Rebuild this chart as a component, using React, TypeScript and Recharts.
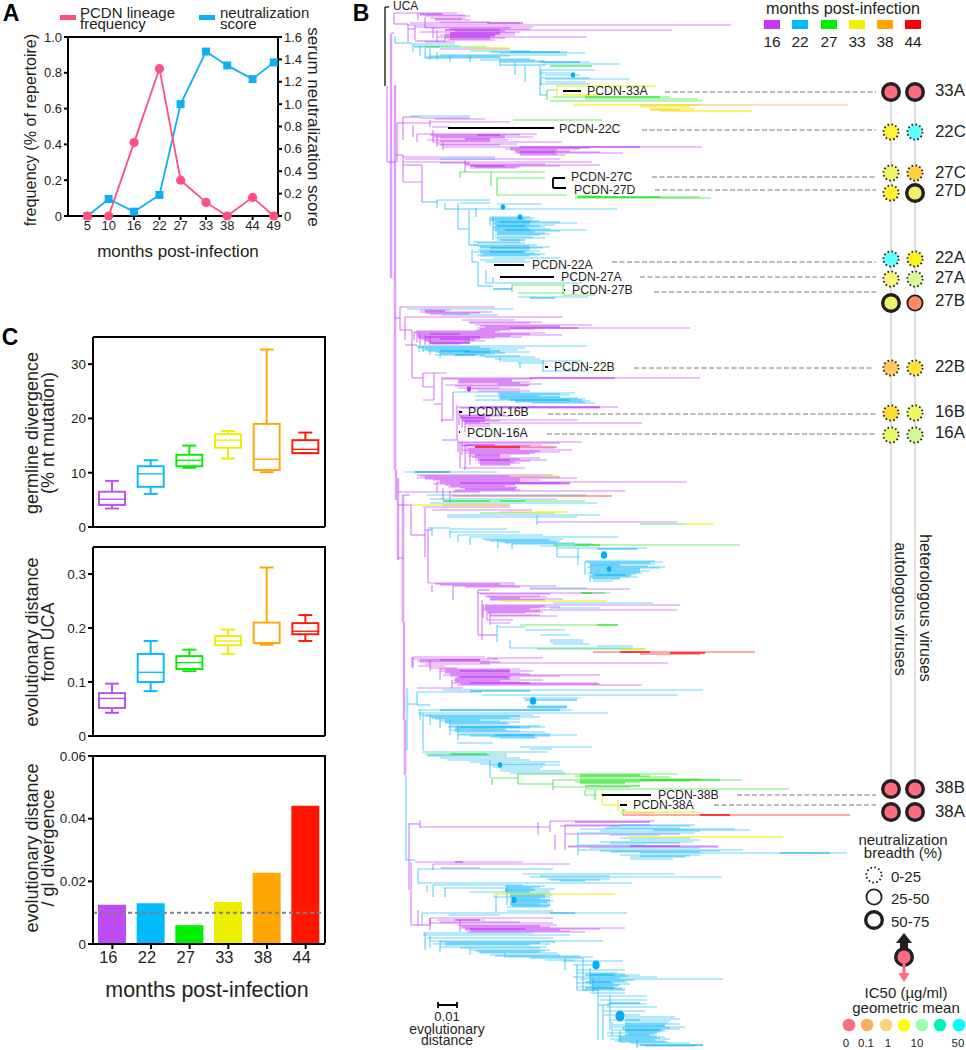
import React from "react";
import {
  Bar,
  BarChart,
  Cell,
  ComposedChart,
  Line,
  LineChart,
  ReferenceLine,
  Scatter,
  XAxis,
  YAxis,
} from "recharts";

type Seg = [number, number, number];

const FONT = '"Liberation Sans", Arial, sans-serif';
const INK = "#231f20";

// panel A
const monthsA = [5, 10, 16, 22, 27, 33, 38, 44, 49];
const lineageFreq = [0, 0, 0.41, 0.823, 0.2, 0.076, 0, 0.104, 0];
const neutScore = [0, 0.152, 0.039, 0.188, 1.0, 1.47, 1.346, 1.224, 1.373];

// panel C
const monthsC = ["16", "22", "27", "33", "38", "44"];
const monthColors = ["#BD4BF7", "#00BAFF", "#00EE00", "#EEEE00", "#FFA600", "#FF1500"];

const germMax = [8.5, 12.3, 15, 17.7, 32.7, 17.4];
const germQ3 = [6.5, 11.2, 13.3, 17.1, 19, 16];
const germMed = [5.1, 9.8, 12.3, 16, 12.5, 14.3];
const germQ1 = [4.05, 7.4, 11.2, 14.6, 10.5, 13.6];
const germMin = [3.4, 6.1, 10.9, 12.6, 10.1, 13.6];

const distMax = [0.097, 0.176, 0.16, 0.197, 0.312, 0.224];
const distQ3 = [0.0795, 0.152, 0.148, 0.185, 0.21, 0.209];
const distMed = [0.0696, 0.118, 0.136, 0.176, 0.1725, 0.194];
const distQ1 = [0.052, 0.1, 0.124, 0.168, 0.172, 0.1885];
const distMin = [0.043, 0.083, 0.12, 0.152, 0.169, 0.176];

const ratioValues = [0.0125, 0.013, 0.006, 0.0134, 0.0227, 0.0441];

// panel B tree, [tip position, distance from, distance to] and stems [distance, position from, position to]
const purpleStems: Seg[] = [
  [387, 86, 162], [394, 13, 24], [408, 24, 42], [415, 25, 40], [397, 123, 162], [403, 117, 140],
  [417, 134, 142], [413, 125, 137], [403, 155, 182], [422, 165, 202], [400, 307, 330], [405, 317, 340],
  [412, 330, 378], [423, 373, 387], [434, 373, 400], [442, 378, 422], [453, 392, 420], [457, 405, 440],
  [462, 415, 428], [458, 440, 452], [462, 442, 455], [411, 505, 535], [425, 508, 557], [428, 530, 583],
  [478, 590, 635], [482, 600, 640], [412, 657, 667], [420, 820, 828], [409, 823, 890], [411, 862, 925],
  [550, 821, 832], [538, 822, 835], [555, 835, 850], [418, 910, 926], [430, 918, 925], [418, 13, 20],
  [425, 17, 28], [433, 27, 38], [437, 30, 42], [445, 36, 42], [430, 120, 127], [433, 130, 142],
  [437, 137, 147], [443, 142, 150], [465, 160, 172], [414, 332, 340], [417, 335, 343], [420, 335, 345],
  [425, 335, 345], [430, 337, 345], [459, 410, 425], [465, 420, 432], [460, 442, 468], [465, 445, 470],
  [470, 450, 465], [437, 482, 492], [443, 488, 500], [450, 491, 502], [432, 585, 592], [453, 586, 600],
  [483, 605, 618], [487, 610, 620], [490, 612, 625], [413, 657, 668], [430, 660, 671], [440, 668, 680],
  [452, 680, 688], [565, 825, 850], [433, 864, 870], [430, 918, 930], [460, 920, 932],
];
const purpleLinks: Seg[] = [
  [24, 394, 408], [29, 408, 415], [33, 391, 394], [41, 415, 445], [117, 403, 420], [123, 397, 403],
  [162, 387, 396], [155, 396, 403], [165, 403, 422], [318, 395, 400], [330, 400, 412], [345, 405, 417],
  [378, 412, 423], [404, 434, 441], [420, 441, 453], [440, 442, 457], [495, 403, 410], [505, 398, 412],
  [535, 411, 425], [558, 398, 403], [530, 425, 432], [925, 411, 430], [590, 478, 490], [635, 478, 497],
  [824, 409, 420],
];
const purpleTips: Seg[] = [
  [13, 394, 457], [15, 420, 465], [16, 425, 470], [18, 430, 466], [19, 435, 462], [20, 435, 470],
  [22, 440, 490], [23, 410, 520], [25, 408, 731], [27, 415, 533], [28, 425, 510], [29, 450, 530],
  [30, 445, 672], [31, 455, 505], [32, 420, 520], [33, 450, 515], [34, 445, 500], [35, 440, 515],
  [36, 445, 495], [37, 437, 587], [38, 445, 505], [39, 450, 490], [40, 447, 495], [42, 425, 455],
  [49, 440, 510], [118, 420, 470], [119, 435, 485], [122, 430, 510], [123, 403, 430], [127, 432, 450],
  [134, 417, 537], [135, 430, 520], [136, 435, 505], [137, 433, 533], [138, 440, 505], [140, 427, 508],
  [141, 440, 490], [142, 433, 562], [144, 437, 517], [145, 440, 500], [147, 443, 702], [148, 510, 590],
  [149, 505, 580], [150, 510, 557], [151, 515, 570], [152, 515, 600], [153, 517, 623], [154, 520, 557],
  [155, 520, 565], [157, 403, 495], [159, 405, 560], [162, 403, 592], [163, 440, 470], [164, 465, 545],
  [165, 465, 600], [166, 470, 560], [167, 475, 520], [168, 470, 516], [182, 403, 422], [307, 400, 495],
  [310, 420, 450], [312, 420, 492], [313, 425, 480], [314, 430, 470], [317, 405, 563], [320, 462, 515],
  [322, 468, 542], [323, 470, 530], [325, 475, 592], [326, 480, 560], [327, 485, 560], [328, 478, 690],
  [329, 480, 535], [330, 476, 510], [331, 416, 500], [332, 414, 495], [333, 415, 545], [334, 416, 530],
  [335, 417, 562], [336, 418, 510], [337, 418, 522], [338, 418, 495], [339, 420, 480], [340, 425, 475],
  [341, 425, 485], [342, 428, 470], [343, 430, 470], [344, 432, 460], [373, 423, 447], [378, 441, 700],
  [379, 443, 532], [380, 458, 512], [381, 459, 512], [382, 458, 530], [383, 458, 520], [384, 498, 542],
  [385, 445, 530], [386, 455, 528], [387, 423, 434], [388, 458, 500], [389, 472, 520], [391, 478, 530],
  [400, 423, 434], [407, 457, 618], [408, 460, 600], [415, 459, 505], [416, 460, 510], [417, 460, 490],
  [418, 460, 485], [419, 462, 490], [420, 462, 578], [421, 462, 500], [422, 465, 480], [423, 465, 642],
  [424, 466, 490], [426, 468, 490], [442, 458, 582], [443, 460, 560], [445, 462, 542], [446, 462, 530],
  [448, 465, 555], [449, 468, 520], [450, 462, 572], [451, 465, 540], [452, 470, 560], [453, 465, 535],
  [454, 470, 530], [456, 468, 510], [457, 472, 500], [458, 475, 540], [459, 478, 520], [460, 475, 547],
  [461, 478, 530], [462, 480, 515], [463, 478, 520], [464, 480, 510], [465, 480, 510], [468, 462, 525],
  [472, 415, 450], [475, 417, 553], [476, 420, 510], [477, 425, 560], [478, 417, 577], [479, 425, 520],
  [480, 433, 540], [481, 440, 520], [482, 437, 687], [483, 440, 560], [484, 433, 570], [485, 445, 515],
  [486, 450, 505], [487, 448, 517], [488, 460, 517], [490, 455, 520], [491, 453, 625], [492, 398, 480],
  [505, 443, 510], [507, 423, 510], [510, 432, 532], [522, 537, 677], [583, 428, 515], [584, 435, 500],
  [585, 440, 515], [586, 453, 556], [587, 465, 520], [589, 530, 630], [593, 477, 605], [594, 480, 550],
  [596, 485, 540], [597, 487, 547], [598, 490, 520], [599, 490, 563], [600, 490, 545], [605, 483, 680],
  [606, 485, 545], [607, 485, 560], [608, 483, 540], [609, 485, 530], [610, 483, 677], [611, 488, 540],
  [612, 487, 543], [613, 488, 525], [615, 490, 540], [616, 490, 557], [620, 487, 513], [623, 490, 510],
  [657, 413, 485], [658, 487, 543], [659, 413, 498], [660, 420, 480], [661, 417, 490], [662, 420, 500],
  [663, 480, 668], [664, 425, 490], [666, 418, 445], [668, 430, 457], [669, 440, 520], [670, 445, 510],
  [671, 440, 533], [672, 445, 510], [673, 445, 520], [674, 450, 530], [675, 443, 600], [676, 450, 560],
  [677, 457, 507], [678, 455, 520], [679, 455, 510], [680, 453, 543], [681, 455, 500], [682, 455, 520],
  [683, 452, 598], [684, 460, 600], [685, 457, 642], [688, 417, 463], [821, 550, 655], [825, 565, 650],
  [826, 560, 620], [827, 420, 550], [834, 565, 680], [846, 568, 718], [847, 568, 718], [862, 415, 523],
  [864, 433, 570], [868, 441, 480], [918, 430, 553], [920, 437, 485], [922, 440, 520], [923, 430, 553],
  [925, 457, 557], [926, 460, 540], [927, 462, 550], [928, 460, 625], [929, 465, 600], [930, 465, 560],
  [931, 470, 570], [932, 467, 585],
];
const purpleCore: Seg[] = [
  [14, 420, 443], [23, 487, 523], [30, 445, 500], [33, 450, 500], [35, 450, 495], [37, 450, 490],
  [135, 477, 500], [139, 465, 490], [147, 520, 640], [152, 520, 555], [166, 470, 505], [311, 425, 445],
  [328, 510, 578], [334, 430, 460], [337, 425, 480], [339, 440, 470], [343, 430, 470], [378, 530, 615],
  [407, 480, 600], [418, 462, 485], [421, 465, 485], [445, 465, 495], [455, 475, 500], [460, 480, 510],
  [483, 460, 570], [489, 465, 515], [660, 440, 480], [671, 460, 510], [677, 460, 510], [683, 470, 530],
  [822, 575, 650], [846, 630, 680], [862, 455, 463], [920, 455, 480], [929, 470, 525],
];
const blueStems: Seg[] = [
  [395, 36, 43], [413, 44, 52], [420, 46, 56], [425, 48, 58], [525, 65, 82], [540, 66, 95], [541, 70, 85],
  [437, 200, 208], [445, 203, 209], [458, 203, 229], [469, 210, 245], [476, 208, 217], [490, 217, 226],
  [493, 217, 240], [472, 250, 262], [478, 262, 286], [486, 270, 283], [493, 277, 283], [419, 346, 352],
  [430, 350, 355], [543, 360, 372], [537, 515, 525], [557, 545, 557], [578, 548, 565], [585, 562, 575],
  [590, 575, 582], [497, 625, 642], [510, 640, 648], [417, 692, 705], [407, 688, 750], [423, 713, 750],
  [406, 775, 860], [578, 832, 855], [422, 913, 925], [425, 933, 950], [583, 958, 990], [565, 958, 970],
  [598, 985, 1040], [490, 760, 778], [418, 869, 883], [433, 885, 897], [507, 885, 905], [603, 1005, 1040],
  [430, 48, 60], [437, 52, 60], [450, 55, 62], [470, 55, 62], [500, 58, 66], [515, 62, 75], [423, 346, 352],
  [440, 352, 358], [500, 358, 362], [520, 362, 368], [432, 528, 536], [450, 530, 538], [458, 535, 542],
  [470, 537, 545], [498, 540, 548], [512, 544, 549], [420, 710, 720], [430, 714, 725], [440, 718, 728],
  [450, 720, 735], [458, 725, 740], [427, 885, 892], [445, 888, 897], [496, 895, 912], [430, 936, 948],
  [440, 940, 952], [470, 948, 955], [505, 953, 958], [590, 968, 985], [577, 965, 990], [593, 978, 992],
  [610, 995, 1030], [612, 1022, 1036], [620, 1030, 1042], [637, 1040, 1048],
];
const blueLinks: Seg[] = [
  [43, 395, 412], [58, 425, 450], [62, 500, 525], [65, 500, 545], [95, 540, 547], [202, 422, 437],
  [209, 445, 477], [229, 458, 469], [245, 469, 477], [262, 472, 478], [286, 478, 493], [289, 493, 512],
  [528, 428, 432], [704, 407, 417], [705, 417, 430], [958, 530, 583], [860, 406, 415], [883, 418, 423],
  [1005, 598, 610], [990, 583, 598],
];
const blueTips: Seg[] = [
  [44, 412, 455], [46, 414, 460], [47, 414, 440], [51, 470, 530], [52, 490, 567], [53, 500, 585],
  [55, 440, 567], [56, 430, 510], [57, 425, 500], [58, 450, 500], [59, 500, 530], [60, 480, 535],
  [61, 500, 545], [62, 525, 590], [64, 543, 620], [70, 540, 595], [73, 540, 570], [75, 545, 580],
  [78, 542, 590], [79, 545, 630], [82, 545, 585], [84, 540, 590], [116, 410, 470], [159, 440, 495],
  [200, 437, 490], [203, 460, 490], [204, 497, 542], [209, 477, 617], [217, 490, 530], [218, 492, 535],
  [219, 490, 525], [220, 490, 533], [221, 492, 540], [222, 495, 560], [223, 493, 577], [224, 493, 530],
  [225, 495, 555], [226, 495, 540], [227, 493, 545], [228, 493, 528], [229, 495, 550], [230, 493, 587],
  [231, 495, 560], [232, 497, 535], [233, 497, 545], [234, 497, 550], [235, 495, 540], [237, 497, 533],
  [238, 495, 545], [240, 497, 520], [242, 473, 520], [243, 477, 525], [245, 473, 537], [246, 477, 530],
  [247, 480, 550], [248, 480, 543], [250, 478, 530], [251, 480, 540], [252, 473, 523], [253, 480, 535],
  [254, 483, 545], [255, 477, 540], [256, 480, 530], [258, 493, 560], [260, 480, 525], [262, 485, 530],
  [283, 485, 582], [289, 493, 512], [297, 518, 588], [309, 407, 513], [315, 442, 498], [346, 417, 587],
  [347, 418, 480], [348, 420, 525], [349, 425, 490], [350, 422, 518], [351, 428, 500], [352, 435, 530],
  [353, 440, 505], [354, 440, 495], [355, 435, 485], [356, 480, 520], [357, 485, 535], [359, 495, 540],
  [361, 502, 582], [363, 518, 545], [371, 543, 585], [392, 453, 520], [393, 498, 575], [394, 500, 560],
  [395, 498, 570], [396, 475, 540], [398, 498, 578], [399, 500, 585], [400, 475, 582], [401, 515, 590],
  [402, 515, 585], [403, 532, 595], [472, 405, 497], [495, 427, 587], [499, 430, 557], [503, 430, 597],
  [515, 447, 600], [517, 447, 577], [528, 432, 450], [529, 450, 507], [532, 450, 520], [535, 458, 543],
  [537, 470, 618], [539, 482, 563], [540, 485, 550], [541, 490, 560], [542, 500, 557], [543, 505, 575],
  [544, 512, 593], [546, 540, 590], [548, 557, 647], [557, 557, 580], [561, 585, 655], [562, 585, 663],
  [563, 588, 650], [564, 590, 655], [566, 590, 648], [567, 587, 665], [568, 590, 660], [569, 590, 640],
  [570, 590, 640], [571, 590, 650], [572, 590, 640], [573, 587, 642], [574, 590, 636], [575, 592, 632],
  [576, 590, 630], [577, 590, 638], [578, 592, 620], [579, 593, 620], [581, 593, 613], [588, 530, 587],
  [603, 553, 653], [608, 550, 600], [627, 497, 525], [630, 525, 565], [635, 540, 570], [640, 550, 583],
  [642, 550, 583], [644, 553, 590], [646, 597, 633], [648, 510, 633], [690, 443, 703], [692, 417, 482],
  [695, 482, 678], [698, 523, 580], [706, 527, 567], [708, 530, 567], [710, 418, 572], [713, 418, 608],
  [715, 420, 533], [716, 425, 520], [717, 430, 540], [718, 432, 510], [719, 435, 520], [720, 445, 480],
  [721, 440, 500], [722, 445, 520], [723, 445, 507], [724, 450, 510], [726, 450, 540], [727, 448, 545],
  [728, 455, 530], [729, 455, 505], [730, 450, 507], [731, 455, 520], [732, 457, 545], [734, 460, 550],
  [735, 457, 577], [736, 470, 550], [737, 490, 535], [738, 500, 537], [743, 457, 493], [747, 520, 592],
  [749, 530, 552], [752, 422, 548], [755, 428, 490], [756, 427, 507], [758, 440, 520], [760, 447, 530],
  [762, 470, 560], [764, 480, 545], [765, 490, 560], [767, 493, 543], [769, 500, 540], [771, 500, 563],
  [773, 510, 565], [825, 620, 695], [826, 610, 690], [828, 605, 680], [829, 580, 735], [830, 653, 750],
  [831, 600, 700], [833, 580, 695], [835, 610, 660], [838, 620, 690], [840, 630, 700], [842, 600, 693],
  [843, 610, 680], [845, 580, 645], [848, 590, 700], [850, 578, 743], [851, 600, 720], [852, 610, 700],
  [853, 640, 847], [855, 620, 700], [856, 640, 690], [857, 630, 685], [859, 630, 673], [869, 418, 553],
  [874, 523, 675], [876, 540, 610], [877, 530, 722], [879, 547, 610], [880, 550, 600], [881, 560, 585],
  [883, 423, 632], [885, 433, 523], [886, 505, 545], [887, 507, 540], [888, 443, 533], [889, 505, 555],
  [891, 505, 550], [892, 470, 530], [893, 507, 550], [894, 510, 545], [895, 510, 552], [897, 493, 550],
  [898, 510, 545], [899, 512, 540], [901, 512, 553], [902, 510, 548], [903, 510, 550], [904, 510, 540],
  [906, 512, 550], [907, 507, 547], [911, 507, 553], [913, 422, 627], [915, 448, 500], [933, 423, 533],
  [935, 423, 570], [938, 427, 553], [941, 430, 603], [942, 440, 555], [943, 445, 540], [944, 433, 550],
  [945, 445, 530], [947, 440, 547], [948, 460, 540], [950, 470, 550], [951, 475, 545], [952, 478, 540],
  [953, 480, 557], [955, 490, 560], [956, 495, 580], [957, 507, 593], [960, 545, 575], [961, 563, 623],
  [965, 573, 597], [970, 577, 625], [973, 577, 617], [974, 590, 625], [975, 590, 640], [976, 590, 628],
  [977, 573, 657], [978, 590, 620], [979, 580, 723], [980, 590, 635], [981, 590, 625], [982, 592, 628],
  [983, 577, 613], [984, 590, 630], [985, 592, 620], [986, 590, 618], [987, 577, 613], [988, 592, 622],
  [989, 592, 625], [990, 577, 625], [993, 590, 625], [996, 598, 647], [1000, 600, 647], [1004, 607, 647],
  [1007, 607, 657], [1011, 603, 645], [1015, 603, 640], [1017, 625, 675], [1019, 625, 680], [1020, 610, 640],
  [1021, 625, 670], [1023, 625, 668], [1024, 625, 680], [1025, 613, 665], [1027, 613, 685], [1028, 622, 670],
  [1029, 622, 680], [1030, 613, 663], [1031, 625, 665], [1032, 625, 660], [1033, 607, 657], [1034, 628, 655],
  [1036, 607, 657], [1037, 618, 665], [1038, 620, 660], [1039, 610, 670], [1040, 618, 655], [1041, 615, 665],
  [1042, 620, 668], [1043, 630, 690], [1045, 637, 703], [1046, 645, 695],
];
const blueCore: Seg[] = [
  [52, 510, 560], [62, 540, 580], [230, 505, 530], [222, 500, 530], [226, 497, 525], [240, 500, 525],
  [248, 490, 530], [252, 490, 525], [298, 530, 555], [351, 440, 470], [352, 465, 490], [355, 455, 475],
  [397, 500, 560], [400, 510, 570], [472, 415, 450], [549, 597, 637], [565, 590, 620], [575, 595, 625],
  [691, 470, 530], [700, 525, 577], [707, 527, 567], [710, 440, 560], [727, 460, 520], [735, 495, 535],
  [853, 780, 830], [890, 505, 535], [896, 510, 545], [900, 517, 550], [905, 510, 550], [913, 550, 575],
  [975, 585, 615], [982, 585, 610], [988, 585, 615], [1003, 610, 640], [1026, 625, 665], [1030, 625, 660],
  [1035, 625, 650], [1045, 640, 703],
];
const greenStems: Seg[] = [
  [547, 90, 100], [460, 172, 178], [491, 172, 186], [497, 178, 195], [512, 285, 292], [563, 285, 295],
  [518, 774, 784], [492, 778, 785], [585, 790, 795], [595, 790, 800], [553, 780, 790], [623, 810, 815],
];
const greenTips: Seg[] = [
  [47, 425, 487], [90, 547, 557], [97, 553, 670], [99, 585, 698], [101, 550, 702], [120, 513, 602],
  [172, 460, 545], [178, 497, 545], [195, 497, 567], [196, 575, 600], [197, 578, 700], [198, 575, 711],
  [285, 512, 565], [293, 518, 565], [295, 563, 595], [501, 443, 585], [513, 480, 555], [524, 640, 685],
  [545, 553, 740], [593, 580, 610], [625, 520, 618], [649, 537, 645], [754, 425, 507], [774, 518, 677],
  [778, 492, 518], [780, 553, 742], [782, 575, 640], [784, 518, 553], [787, 553, 630], [789, 585, 789],
  [795, 585, 597], [810, 622, 626], [776, 575, 650], [777, 580, 670], [779, 580, 700], [781, 580, 690],
];
const greenCore: Seg[] = [
  [66, 550, 592], [97, 585, 660], [197, 578, 660], [501, 443, 490], [501, 500, 525], [545, 575, 600],
  [593, 582, 592], [625, 597, 618], [754, 450, 487], [775, 580, 640], [780, 640, 720], [783, 580, 625],
  [786, 585, 640],
];
const yellowStems: Seg[] = [[557, 86, 97], [602, 790, 804], [618, 800, 812]];
const yellowTips: Seg[] = [
  [48, 470, 510], [86, 557, 656], [95, 563, 600], [105, 573, 700], [107, 640, 690], [109, 650, 695],
  [111, 660, 752], [476, 543, 558], [505, 412, 510], [512, 532, 568], [524, 685, 713], [601, 500, 607],
  [649, 620, 645], [805, 602, 618], [812, 620, 700], [837, 628, 783], [894, 493, 615],
];
const orangeTips: Seg[] = [[105, 640, 848], [110, 650, 680], [476, 510, 543], [512, 500, 532], [813, 625, 655]];
const redTips: Seg[] = [
  [447, 475, 557], [496, 452, 612], [652, 593, 755], [654, 640, 700], [815, 623, 850],
];
const redCore: Seg[] = [[447, 475, 520], [652, 620, 650], [653, 670, 705], [815, 700, 730]];

// trunk and connectors
const trunkStems: Seg[] = [
  [391, 34, 278], [395, 85, 470], [396, 470, 500], [398, 478, 560], [403, 495, 622], [404, 622, 720],
  [405, 720, 775],
];
const ucaStem: Seg[] = [[385, 7, 86]];
const ucaTip: Seg[] = [[7, 385, 389]];

// lineage markers, black
const lineageBars: Seg[] = [
  [91, 563, 581], [128, 448, 554], [178, 553, 565], [188, 553, 566], [265, 494, 524], [277, 500, 554],
  [290, 564, 565], [367, 545, 548], [412, 459, 462], [432, 459, 460], [795, 602, 651], [805, 620, 627],
  [1005, 438, 457],
];
const lineageBarStems: Seg[] = [[553, 178, 188], [438, 1002, 1008], [457, 1002, 1008]];

// expanded clone nodes
const nodeX = [573, 503, 520, 604, 609, 533, 500, 514, 596, 620];
const nodeY = [75, 207, 217, 555, 569, 701, 765, 900, 965, 1016];
const nodeSize = [2.5, 2.5, 2.5, 3.5, 2.5, 3.5, 2.5, 3, 4, 5];

// lineages
const lineages = ["33A", "22C", "27C", "27D", "22A", "27A", "27B", "22B", "16B", "16A", "38B", "38A"];
const lineageRow = [92, 132, 173, 193, 259, 279, 303, 368, 413, 435, 789, 812];
const labelRow = [91, 132, 173, 191, 258, 278, 301, 367, 412, 433, 788, 812];
const autoBreadth = ["thick", "dotted", "dotted", "dotted", "dotted", "dotted", "thick", "dotted", "dotted", "dotted", "thick", "thick"];
const heteroBreadth = ["thick", "dotted", "dotted", "thick", "dotted", "dotted", "medium", "dotted", "dotted", "dotted", "thick", "thick"];
const autoIc50 = ["#FF6B7F", "#FFF233", "#F2F26B", "#FFF233", "#66FFFF", "#FBF57A", "#EEF26A", "#FFC85A", "#FFDD33", "#E8FA6A", "#FF6B7F", "#FF6B7F"];
const heteroIc50 = ["#FF6B7F", "#66FFFF", "#FFD040", "#EEF26A", "#FFF21F", "#D8FBA0", "#FF8A65", "#FFE23A", "#ECFA66", "#CFFB9A", "#FF6B7F", "#FF6B7F"];

const leaders: Seg[] = [
  [92, 665, 876], [130, 642, 876], [177, 652, 876], [190, 655, 876], [262, 612, 876], [277, 640, 876],
  [292, 654, 876], [368, 634, 874], [414, 548, 876], [434, 547, 876], [795, 737, 876], [805, 714, 876],
];
const lineageNames = [
  "PCDN-33A", "PCDN-22C", "PCDN-27C", "PCDN-27D", "PCDN-22A", "PCDN-27A",
  "PCDN-27B", "PCDN-22B", "PCDN-16B", "PCDN-16A", "PCDN-38B", "PCDN-38A",
];
const nameX = [587, 559, 571, 574, 532, 561, 572, 554, 468, 467, 658, 633];
const nameY = [91, 129, 177, 190, 264.5, 277, 290, 367, 412, 433, 795, 805];

const breadthLabels = ["0-25", "25-50", "50-75"];
const breadthKinds = ["dotted", "medium", "thick"];
const ic50Labels = ["0", "0.1", "1", "10", "50"];
const ic50Colors = ["#FF6B7F", "#FFAE5E", "#FFD27A", "#FFFF00", "#99FFA8", "#00F2B8", "#00FFFF"];

const frequencyData = monthsA.map((m, i) => ({ m, freq: lineageFreq[i], score: neutScore[i] }));
const boxTable = (mins: number[], q1: number[], med: number[], q3: number[], maxs: number[]) =>
  monthsC.map((m, i) => ({ m, min: mins[i], q1: q1[i], med: med[i], q3: q3[i], max: maxs[i] }));
const germData = boxTable(germMin, germQ1, germMed, germQ3, germMax);
const distData = boxTable(distMin, distQ1, distMed, distQ3, distMax);
const ratioData = monthsC.map((m, i) => ({ m, ratio: ratioValues[i] }));

const horiz = (rows: Seg[]) => rows.flatMap(([y, a, b]) => [{ x: a, y }, { x: b, y }, { x: b, y: null }]);
const vert = (rows: Seg[]) => rows.flatMap(([x, a, b]) => [{ x, y: a }, { x, y: b }, { x, y: null }]);

const Txt = ({ x, y, size, rot, bold, align, leading, children }: any) => (
  <div
    style={{
      position: "absolute",
      left: x,
      top: y,
      fontFamily: FONT,
      fontSize: size,
      fontWeight: bold ? 700 : 400,
      color: bold ? "#000" : INK,
      lineHeight: leading ? `${leading}px` : 1,
      textAlign: align === "left" ? "left" : "center",
      whiteSpace: "nowrap",
      transform: `translate(${align === "left" ? "0" : "-50%"}, -50%) rotate(${rot || 0}deg)`,
    }}
  >
    {children}
  </div>
);

const Frame = ({ left, top, width, height, right = true }: any) => (
  <div
    style={{
      position: "absolute",
      left,
      top,
      width,
      height,
      boxSizing: "border-box",
      borderTop: "2px solid #000",
      borderRight: right ? "2px solid #000" : undefined,
    }}
  />
);

const BoxShape = (props: any) => {
  const { x, y, width, height, payload, index } = props;
  const color = monthColors[index];
  const ratio = height / (payload.max - payload.min);
  const at = (v: number) => y + (payload.max - v) * ratio;
  const mid = x + width / 2;
  return (
    <g stroke={color} strokeWidth={1.9} fill="none">
      <line x1={mid} x2={mid} y1={at(payload.max)} y2={at(payload.q3)} />
      <line x1={mid} x2={mid} y1={at(payload.q1)} y2={at(payload.min)} />
      <line x1={mid - 7} x2={mid + 7} y1={at(payload.max)} y2={at(payload.max)} />
      <line x1={mid - 7} x2={mid + 7} y1={at(payload.min)} y2={at(payload.min)} />
      <rect x={x} y={at(payload.q3)} width={width} height={at(payload.q1) - at(payload.q3)} />
      <line x1={x} x2={x + width} y1={at(payload.med)} y2={at(payload.med)} strokeWidth={1.3} />
    </g>
  );
};

const ringProps = (kind: string) => {
  if (kind === "thick") return { r: 8.3, strokeWidth: 3.4, strokeDasharray: undefined };
  if (kind === "medium") return { r: 7.6, strokeWidth: 1.8, strokeDasharray: undefined };
  return { r: 7.6, strokeWidth: 1.8, strokeDasharray: "1.6 2.4" };
};

const RingDot = (props: any) => {
  const { cx, cy, payload } = props;
  const ring = ringProps(payload.kind);
  return <circle cx={cx} cy={cy} fill={payload.color} stroke="#231f20" {...ring} />;
};

const NodeDot = (props: any) => {
  const { cx, cy, payload } = props;
  return <ellipse cx={cx} cy={cy} rx={payload.size * 0.9} ry={payload.size * 1.1} fill={payload.color} />;
};

const ArrowGlyph = (props: any) => {
  const { cx, cy } = props;
  return (
    <g>
      <path d={`M${cx} ${cy - 24}l8 10h-4v8h-8v-8h-4z`} fill="#231f20" />
      <circle cx={cx} cy={cy} r={8.3} fill="#FF6B7F" stroke="#231f20" strokeWidth={3.4} />
      <path d={`M${cx - 1.5} ${cy}h3v16h4l-5.5 9l-5.5 -9h4z`} fill="#FF6B7F" />
    </g>
  );
};

const PinkDot = (props: any) => <circle cx={props.cx} cy={props.cy} r={4.6} fill="#FF4F7F" />;
const BlueSquare = (props: any) => (
  <rect x={props.cx - 4} y={props.cy - 4} width={8} height={8} fill="#0FAFF5" />
);

const treeLines: { data: any[]; stroke: string; width: number; opacity: number }[] = [
  { data: vert(trunkStems), stroke: "#C13BF5", width: 2.4, opacity: 0.5 },
  { data: horiz(purpleTips), stroke: "#C13BF5", width: 1.1, opacity: 0.6 },
  { data: vert(purpleStems), stroke: "#C13BF5", width: 1, opacity: 0.75 },
  { data: horiz(purpleLinks), stroke: "#C13BF5", width: 1, opacity: 0.75 },
  { data: horiz(purpleCore), stroke: "#B828F0", width: 1.1, opacity: 0.95 },
  { data: horiz(blueTips), stroke: "#10B8FA", width: 1.1, opacity: 0.6 },
  { data: vert(blueStems), stroke: "#10B8FA", width: 1, opacity: 0.75 },
  { data: horiz(blueLinks), stroke: "#10B8FA", width: 1, opacity: 0.75 },
  { data: horiz(blueCore), stroke: "#00AEFA", width: 1.2, opacity: 0.95 },
  { data: horiz(greenTips), stroke: "#22E022", width: 1.2, opacity: 0.65 },
  { data: vert(greenStems), stroke: "#22E022", width: 1, opacity: 0.8 },
  { data: horiz(greenCore), stroke: "#00E600", width: 1.2, opacity: 0.95 },
  { data: horiz(yellowTips), stroke: "#EEEE00", width: 1.3, opacity: 0.7 },
  { data: vert(yellowStems), stroke: "#E8E800", width: 1, opacity: 0.9 },
  { data: horiz(orangeTips), stroke: "#FFB040", width: 1.6, opacity: 0.55 },
  { data: horiz(redTips), stroke: "#FF3030", width: 1.4, opacity: 0.55 },
  { data: horiz(redCore), stroke: "#FF1010", width: 1.5, opacity: 0.95 },
  { data: vert(ucaStem), stroke: "#222", width: 1.4, opacity: 1 },
  { data: horiz(ucaTip), stroke: "#222", width: 1.4, opacity: 1 },
  { data: horiz(lineageBars), stroke: "#000", width: 2.2, opacity: 1 },
  { data: vert(lineageBarStems), stroke: "#000", width: 1.8, opacity: 1 },
];

const axisStroke = { stroke: "#000", strokeWidth: 2 };

const PanelA = () => (
  <div style={{ position: "absolute", left: 0, top: 27 }}>
    <LineChart width={340} height={214} data={frequencyData} margin={{ top: 10, right: 0, bottom: 0, left: 0 }}>
      <XAxis
        dataKey="m"
        type="number"
        domain={[0.4, 50]}
        ticks={monthsA}
        interval={0}
        height={25}
        axisLine={axisStroke}
        tickLine={axisStroke}
        tickSize={4}
        tick={{ fill: INK, fontSize: 13, fontFamily: FONT }}
        tickMargin={1}
      />
      <YAxis
        width={68}
        domain={[0, 1]}
        ticks={[0, 0.2, 0.4, 0.6, 0.8, 1]}
        tickFormatter={(v) => (v === 0 ? "0" : v.toFixed(1))}
        axisLine={axisStroke}
        tickLine={axisStroke}
        tickSize={4}
        tick={{ fill: INK, fontSize: 13, fontFamily: FONT }}
      />
      <YAxis
        yAxisId="score"
        orientation="right"
        width={62}
        domain={[0, 1.6]}
        ticks={[0, 0.2, 0.4, 0.6, 0.8, 1, 1.2, 1.4, 1.6]}
        tickFormatter={(v) => (v === 0 ? "0" : v.toFixed(1))}
        axisLine={axisStroke}
        tickLine={axisStroke}
        tickSize={4}
        tick={{ fill: INK, fontSize: 13, fontFamily: FONT }}
      />
      <Line dataKey="score" yAxisId="score" stroke="#0FAFF5" strokeWidth={1.8} dot={<BlueSquare />} isAnimationActive={false} />
      <Line dataKey="freq" stroke="#FF4F7F" strokeWidth={1.8} dot={<PinkDot />} isAnimationActive={false} />
    </LineChart>
  </div>
);

const BoxPanel = ({ data, top, height, domain, ticks }: any) => (
  <div style={{ position: "absolute", left: 0, top }}>
    <BarChart width={340} height={height} data={data} margin={{ top: 10, right: 15, bottom: 0, left: 0 }}>
      <XAxis dataKey="m" height={10} tick={false} tickSize={5} axisLine={axisStroke} tickLine={axisStroke} />
      <YAxis
        width={93}
        domain={domain}
        ticks={ticks}
        tickFormatter={(v) => String(v)}
        axisLine={axisStroke}
        tickLine={axisStroke}
        tickSize={5}
        tick={{ fill: INK, fontSize: 13.5, fontFamily: FONT }}
      />
      <Bar dataKey={(d: any) => [d.min, d.max]} barSize={26} shape={<BoxShape />} isAnimationActive={false} />
    </BarChart>
  </div>
);

const RatioPanel = () => (
  <div style={{ position: "absolute", left: 0, top: 746 }}>
    <BarChart width={340} height={238} data={ratioData} margin={{ top: 10, right: 15, bottom: 0, left: 0 }}>
      <XAxis
        dataKey="m"
        height={40}
        tickSize={5}
        axisLine={axisStroke}
        tickLine={axisStroke}
        dx={-4}
        tick={{ fill: INK, fontSize: 16.5, fontFamily: FONT }}
      />
      <YAxis
        width={93}
        domain={[0, 0.06]}
        ticks={[0, 0.02, 0.04, 0.06]}
        tickFormatter={(v) => (v === 0 ? "0" : v.toFixed(2))}
        axisLine={axisStroke}
        tickLine={axisStroke}
        tickSize={5}
        tick={{ fill: INK, fontSize: 13.5, fontFamily: FONT }}
      />
      <Bar dataKey="ratio" barSize={28} isAnimationActive={false}>
        {monthsC.map((m, i) => (
          <Cell key={m} fill={monthColors[i]} />
        ))}
      </Bar>
      <ReferenceLine y={0.01} stroke="#808080" strokeWidth={2} strokeDasharray="4 3" />
    </BarChart>
  </div>
);

const TreePanel = () => (
  <div style={{ position: "absolute", left: 360, top: 0 }}>
    <ComposedChart width={606} height={1050} margin={{ top: 0, right: 0, bottom: 0, left: 0 }}>
      <XAxis type="number" dataKey="x" domain={[360, 966]} hide />
      <YAxis type="number" dataKey="y" domain={[0, 1050]} reversed hide />
      {treeLines.map((t, i) => (
        <Line
          key={i}
          data={t.data}
          dataKey="y"
          stroke={t.stroke}
          strokeWidth={t.width}
          strokeOpacity={t.opacity}
          dot={false}
          activeDot={false}
          strokeLinecap="butt"
          isAnimationActive={false}
        />
      ))}
      <Line data={horiz(leaders)} dataKey="y" stroke="#777" strokeWidth={1} strokeDasharray="5 2.5" dot={false} isAnimationActive={false} />
      <Line data={vert([[891, 92, 789]])} dataKey="y" stroke="#BDBDBD" strokeWidth={1} dot={false} isAnimationActive={false} />
      <Line data={vert([[915, 92, 789]])} dataKey="y" stroke="#BDBDBD" strokeWidth={1} dot={false} isAnimationActive={false} />
      <Scatter
        data={nodeX.map((x, i) => ({ x, y: nodeY[i], size: nodeSize[i], color: "#00AEF5" }))}
        dataKey="y"
        shape={<NodeDot />}
        isAnimationActive={false}
      />
      <Scatter data={[{ x: 469, y: 389, size: 2.5, color: "#C13BF5" }]} dataKey="y" shape={<NodeDot />} isAnimationActive={false} />
      <Scatter
        data={lineages.map((_, i) => ({ x: 891, y: lineageRow[i], kind: autoBreadth[i], color: autoIc50[i] }))}
        dataKey="y"
        shape={<RingDot />}
        isAnimationActive={false}
      />
      <Scatter
        data={lineages.map((_, i) => ({ x: 915, y: lineageRow[i], kind: heteroBreadth[i], color: heteroIc50[i] }))}
        dataKey="y"
        shape={<RingDot />}
        isAnimationActive={false}
      />
      <Scatter
        data={breadthKinds.map((kind, i) => ({ x: 874, y: [875, 897, 920][i], kind, color: "#fff" }))}
        dataKey="y"
        shape={<RingDot />}
        isAnimationActive={false}
      />
      <Scatter data={[{ x: 904, y: 957 }]} dataKey="y" shape={<ArrowGlyph />} isAnimationActive={false} />
      <Scatter
        data={ic50Colors.map((color, i) => ({ x: [849, 867, 886, 904, 922, 940, 959][i], y: 1025, kind: "none", color }))}
        dataKey="y"
        shape={(p: any) => <circle cx={p.cx} cy={p.cy} r={6.3} fill={p.payload.color} />}
        isAnimationActive={false}
      />
    </ComposedChart>
  </div>
);

export default function App() {
  return (
    <div style={{ position: "absolute", left: 0, top: 0, width: 966, height: 1050, background: "#fff", overflow: "hidden" }}>
      <PanelA />
      <BoxPanel data={germData} top={327} height={210} domain={[0, 35]} ticks={[0, 10, 20, 30]} />
      <BoxPanel data={distData} top={537} height={209} domain={[0, 0.35]} ticks={[0, 0.1, 0.2, 0.3]} />
      <RatioPanel />
      <TreePanel />
      <Frame left={68} top={36} width={211} height={180} right={false} />
      <Frame left={93} top={336} width={233} height={191} />
      <Frame left={93} top={546} width={233} height={190} />
      <Frame left={93} top={755} width={233} height={188} />

      <Txt x={11} y={13} size={23} bold>A</Txt>
      <Txt x={361} y={13} size={23} bold>B</Txt>
      <Txt x={10} y={337} size={23} bold>C</Txt>

      <div style={{ position: "absolute", left: 60, top: 15, width: 16, height: 5, background: "#FF4F7F" }} />
      <div style={{ position: "absolute", left: 199, top: 15, width: 16, height: 5, background: "#0FAFF5" }} />
      <Txt x={80} y={17.5} size={15} align="left" leading={11}>PCDN lineage<br />frequency</Txt>
      <Txt x={220} y={17.5} size={15} align="left" leading={11}>neutralization<br />score</Txt>
      <Txt x={30} y={130} size={16.2} rot={-90}>frequency (% of repertoire)</Txt>
      <Txt x={313} y={127} size={17} rot={90}>serum neutralization score</Txt>
      <Txt x={178} y={251} size={17}>months post-infection</Txt>

      <Txt x={40} y={433} size={18} rot={-90} leading={16}>germline divergence<br />(% nt mutation)</Txt>
      <Txt x={40} y={642} size={18} rot={-90} leading={16}>evolutionary distance<br />from UCA</Txt>
      <Txt x={40} y={848} size={18} rot={-90} leading={16}>evolutionary distance<br />/ gl divergence</Txt>
      <Txt x={207} y={991} size={21.4}>months post-infection</Txt>

      <Txt x={393} y={6} size={12} align="left">UCA</Txt>
      {lineageNames.map((n, i) => (
        <Txt key={n} x={nameX[i]} y={nameY[i]} size={12.3} align="left">{n}</Txt>
      ))}
      {lineages.map((l, i) => (
        <Txt key={l} x={935} y={labelRow[i]} size={16.8} align="left">{l}</Txt>
      ))}

      <Txt x={843} y={8} size={16.2}>months post-infection</Txt>
      {monthsC.map((m, i) => (
        <React.Fragment key={m}>
          <div style={{ position: "absolute", left: [772, 800, 829, 857, 885, 913][i] - 8, top: 20, width: 16, height: 9, background: ["#C13BF5", "#00BAFF", "#00EE00", "#EEF000", "#FFA600", "#FF0000"][i] }} />
          <Txt x={[772, 800, 829, 857, 885, 913][i]} y={42} size={15.5}>{m}</Txt>
        </React.Fragment>
      ))}

      <Txt x={900} y={609} size={16} rot={90}>autologous viruses</Txt>
      <Txt x={925} y={608} size={16} rot={90}>heterologous viruses</Txt>

      <Txt x={903} y={846} size={15} leading={13}>neutralization<br />breadth (%)</Txt>
      {breadthLabels.map((l, i) => (
        <Txt key={l} x={891} y={[876, 898, 921][i]} size={15} align="left">{l}</Txt>
      ))}
      <Txt x={906} y={1000} size={15} leading={15}>IC50 (µg/ml)<br />geometric mean</Txt>
      {ic50Labels.map((l, i) => (
        <Txt key={l} x={[846, 866, 888, 917, 958][i]} y={1044} size={11.5}>{l}</Txt>
      ))}

      <Txt x={447} y={1016} size={13}>0.01</Txt>
      <Txt x={447} y={1034.5} size={14} leading={11}>evolutionary<br />distance</Txt>
    </div>
  );
}
